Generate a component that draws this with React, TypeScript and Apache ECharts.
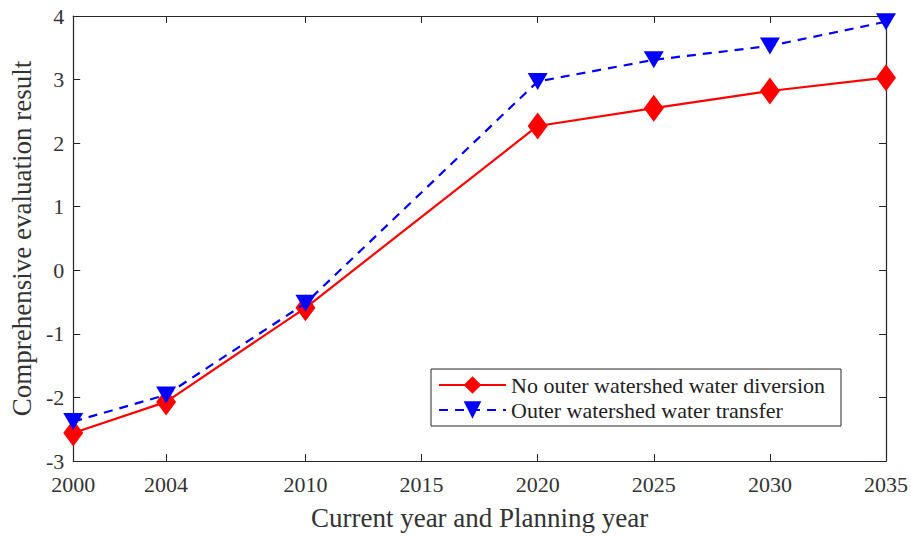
import React, { useEffect, useRef } from "react";
import * as echarts from "echarts";

const years = [2000, 2004, 2010, 2020, 2025, 2030, 2035];
const noDiversion = [-2.56, -2.07, -0.59, 2.27, 2.55, 2.82, 3.03];
const waterTransfer = [-2.38, -1.96, -0.52, 2.97, 3.31, 3.53, 3.91];
const xTicks = [2000, 2004, 2010, 2015, 2020, 2025, 2030, 2035];
const seriesNames = ["No outer watershed water diversion", "Outer watershed water transfer"];
const xTitle = "Current year and Planning year";
const yTitle = "Comprehensive evaluation result";

const FONT = "'Liberation Serif', 'Times New Roman', serif";
const AX = "#262626";

export default function App() {
  const ref = useRef<HTMLDivElement>(null);
  useEffect(() => {
    if (!ref.current) return;
    const chart = echarts.init(ref.current, undefined, { renderer: "svg" });
    const commonX = {
      type: "value",
      min: 2000,
      max: 2035,
      interval: 1,
      axisLine: { show: true, onZero: false, lineStyle: { color: AX, width: 1.2 } },
      splitLine: { show: false },
    };
    const commonY = {
      type: "value",
      min: -3,
      max: 4,
      interval: 1,
      axisLine: { show: true, onZero: false, lineStyle: { color: AX, width: 1.2 } },
      splitLine: { show: false },
    };
    chart.setOption({
      animation: false,
      backgroundColor: "#ffffff",
      grid: { left: 72, right: 25, top: 16, bottom: 70, containLabel: false },
      xAxis: [
        {
          ...commonX,
          position: "bottom",
          name: xTitle,
          nameLocation: "middle",
          nameGap: 43,
          nameTextStyle: { fontFamily: FONT, fontSize: 27, color: "#333" },
          axisTick: { show: true, inside: true, length: 7, customValues: xTicks, lineStyle: { color: AX } },
          axisLabel: {
            show: true,
            customValues: xTicks,
            formatter: (v: number) => String(v),
            fontFamily: FONT,
            fontSize: 22,
            color: "#333",
            margin: 12,
          },
        },
        {
          ...commonX,
          position: "top",
          axisTick: { show: true, inside: true, length: 7, customValues: xTicks, lineStyle: { color: AX } },
          axisLabel: { show: false },
        },
      ],
      yAxis: [
        {
          ...commonY,
          position: "left",
          name: yTitle,
          nameLocation: "middle",
          nameGap: 38,
          nameTextStyle: { fontFamily: FONT, fontSize: 27, color: "#333" },
          axisTick: { show: true, inside: true, length: 7, lineStyle: { color: AX } },
          axisLabel: { fontFamily: FONT, fontSize: 22, color: "#333", margin: 9 },
        },
        {
          ...commonY,
          position: "right",
          axisTick: { show: true, inside: true, length: 7, lineStyle: { color: AX } },
          axisLabel: { show: false },
        },
      ],
      legend: {
        orient: "vertical",
        left: 431,
        top: 369,
        padding: [5, 16, 5, 7],
        itemWidth: 67,
        itemHeight: 22,
        itemGap: 3,
        borderColor: AX,
        borderWidth: 1,
        backgroundColor: "#ffffff",
        textStyle: { fontFamily: FONT, fontSize: 22, color: "#222" },
        data: seriesNames,
      },
      series: [
        {
          name: seriesNames[0],
          type: "line",
          data: years.map((y, i) => [y, noDiversion[i]]),
          symbol: "diamond",
          symbolSize: [20, 27],
          lineStyle: { color: "#ff0000", width: 2.2 },
          itemStyle: { color: "#ff0000" },
          z: 2,
        },
        {
          name: seriesNames[1],
          type: "line",
          data: years.map((y, i) => [y, waterTransfer[i]]),
          symbol: "triangle",
          symbolRotate: 180,
          symbolSize: [20, 17],
          lineStyle: { color: "#0000ff", width: 2.2, type: [9, 7] },
          itemStyle: { color: "#0000ff" },
          z: 3,
        },
      ],
    });
    return () => chart.dispose();
  }, []);
  return <div ref={ref} style={{ width: 911, height: 536, position: "absolute", left: 0, top: 0 }} />;
}
